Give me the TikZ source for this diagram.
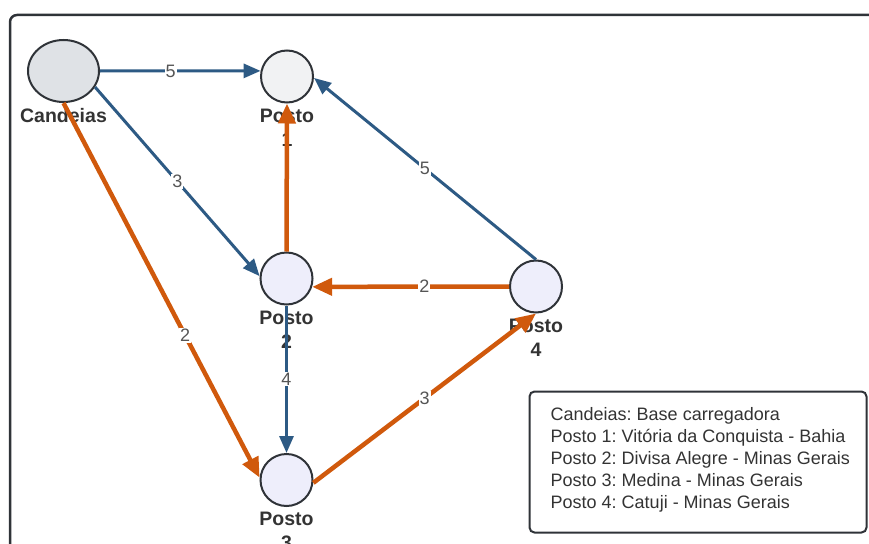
\documentclass[tikz,border=0pt]{standalone}
\usepackage{fontspec}
\setmainfont{Liberation Sans}
\usetikzlibrary{shapes.geometric,arrows.meta}
\frenchspacing

\definecolor{edgeblue}{HTML}{2D5A84}
\definecolor{edgeorange}{HTML}{D0590C}
\definecolor{ink}{HTML}{333333}
\definecolor{rim}{HTML}{2F3338}
\definecolor{basefill}{HTML}{DFE2E6}
\definecolor{firstfill}{HTML}{F1F2F3}
\definecolor{postfill}{HTML}{EEEEFB}
\definecolor{weightgray}{HTML}{555555}

\tikzset{
  station/.style={circle, draw=rim, line width=2pt, minimum size=52pt,
    inner sep=0pt, fill=postfill},
  stationname/.style={anchor=north, inner sep=0pt, align=center, text=ink,
    font=\fontsize{19.5}{24}\selectfont\bfseries, yshift=-5pt},
  blueroute/.style={draw=edgeblue, line width=3pt,
    -{Triangle[length=17pt,width=14pt]}},
  orangeroute/.style={draw=edgeorange, line width=4.5pt,
    -{Triangle[length=20pt,width=17pt]}},
  weight/.style={fill=white, inner sep=1pt, text=weightgray,
    font=\fontsize{18}{18}\selectfont},
  legendbox/.style={draw=rim, line width=2pt, rounded corners=5pt,
    minimum width=337pt, minimum height=141pt, inner sep=0pt},
  legendtext/.style={anchor=north west, inner sep=0pt, align=left, text=ink,
    font=\fontsize{18}{22}\selectfont},
}

\begin{document}
\begin{tikzpicture}[x=1pt,y=-1pt]
  \useasboundingbox (0,0) rectangle (869,543);

  % outer frame, running past the right and bottom edges
  \begin{scope}
    \clip (0,0) rectangle (869,543);
    \draw[draw=rim, line width=2.5pt, rounded corners=7pt] (10,15) rectangle (900,580);
  \end{scope}

  % stations
  \node[ellipse, draw=rim, line width=2pt, fill=basefill, minimum width=71pt,
        minimum height=62pt, inner sep=0pt] (cand) at (63.5,71) {};
  \node[station, fill=firstfill] (p1) at (287,76.5) {};
  \node[station] (p2) at (286.5,278.5) {};
  \node[station] (p4) at (536,286.5) {};
  \node[station] (p3) at (286.5,480) {};

  % station names
  \node[stationname] (candname) at (cand.south) {Candeias};
  \node[stationname] (p1name) at (p1.south) {Posto\\1};
  \node[stationname] (p2name) at (p2.south) {Posto\\2};
  \node[stationname] (p4name) at (p4.south) {Posto\\4};
  \node[stationname] (p3name) at (p3.south) {Posto\\3};

  % routes
  \draw[blueroute] (cand.east) -- node[weight, pos=0.44] {5} (p1.168);
  \draw[blueroute] (cand.-27) -- node[weight, pos=0.5] {3} (p2.175);
  \draw[orangeroute] (cand.south) -- node[weight, pos=0.62] {2} (p3.175);
  \draw[orangeroute] (p2.north) -- (p1.south);
  \draw[blueroute] (p4.north) -- node[weight, pos=0.5] {5} (p1.-3);
  \draw[orangeroute] (p4.west) -- node[weight, pos=0.43] {2} (p2.-18);
  \draw[blueroute] (p2.south) -- node[weight, pos=0.5] {4} (p3.north);
  \draw[orangeroute] (p3.-6) -- node[weight, pos=0.5] {3} (p4.south);

  % legend
  \node[legendbox, anchor=north west] (legend) at (528.5,390.5) {};
  \node[legendtext] (legendlines) at ([xshift=22pt,yshift=-17pt]legend.north west)
    {Candeias: Base carregadora\\
     Posto 1: Vitória da Conquista - Bahia\\
     Posto 2: Divisa Alegre - Minas Gerais\\
     Posto 3: Medina - Minas Gerais\\
     Posto 4: Catuji - Minas Gerais};
\end{tikzpicture}
\end{document}
